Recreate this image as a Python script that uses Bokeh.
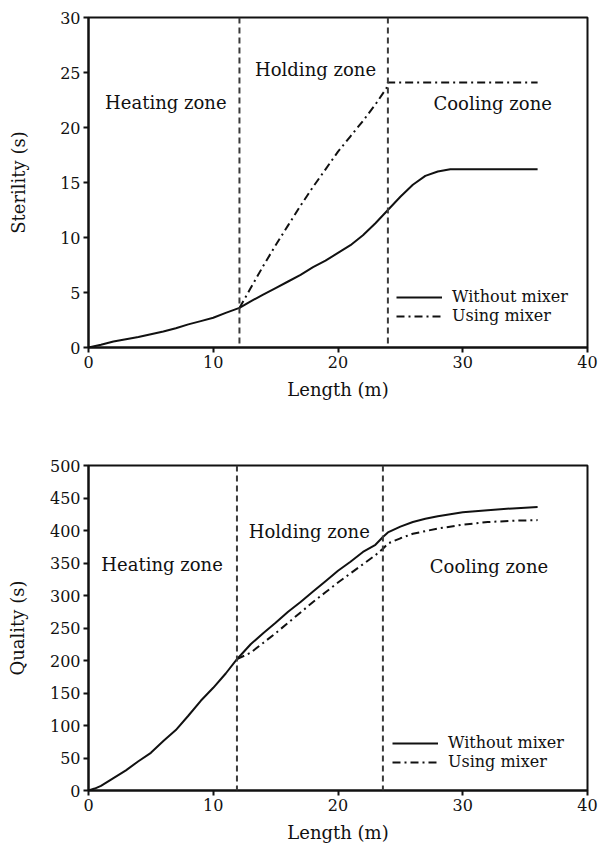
from bokeh.plotting import figure
from bokeh.layouts import column
from bokeh.models import Span, Legend, FixedTicker
from bokeh.core.properties import value
from bokeh.embed import file_html
from bokeh.resources import INLINE

# ---------------- data: top panel (sterility) ----------------
len_top_without = [0, 1, 2, 3, 4, 5, 6, 7, 8, 9, 10, 11, 12.1, 13, 14, 15, 16, 17, 18,
                   19, 20, 21, 22, 23, 24, 25, 26, 27, 28, 29, 36]
ster_without = [0, 0.25, 0.55, 0.75, 0.95, 1.2, 1.45, 1.75, 2.1, 2.4, 2.7, 3.15, 3.6,
                4.2, 4.8, 5.4, 6.0, 6.6, 7.3, 7.9, 8.6, 9.3, 10.2, 11.3, 12.5, 13.7,
                14.8, 15.6, 16.0, 16.2, 16.2]
len_top_mixer = [12.1, 13, 14, 15, 16, 17, 18, 19, 20, 21, 22, 23, 23.9, 24.0, 36]
ster_mixer = [3.6, 5.4, 7.4, 9.3, 11.1, 12.9, 14.6, 16.2, 17.8, 19.2, 20.6, 22.1,
              23.6, 24.1, 24.1]
zone_bounds_top = [12.1, 24.0]

# ---------------- data: bottom panel (quality) ----------------
len_bot_without = [0, 0.5, 1, 2, 3, 4, 5, 6, 7, 8, 9, 10, 11, 11.9, 13, 14, 15, 16, 17,
                   18, 19, 20, 21, 22, 23, 23.6, 24, 25, 26, 27, 28, 30, 32, 34, 36]
qual_without = [0, 3, 7, 19, 31, 45, 58, 76, 93, 115, 138, 158, 180, 202, 225, 242, 258,
                275, 290, 306, 322, 338, 352, 367, 378, 390, 397, 406, 413, 418, 422,
                428, 431, 434, 436]
len_bot_mixer = [11.9, 13, 14, 15, 16, 17, 18, 19, 20, 21, 22, 23, 23.6, 24, 25, 26, 27,
                 28, 30, 32, 34, 36]
qual_mixer = [202, 212, 227, 242, 258, 274, 290, 305, 320, 334, 348, 362, 372, 380, 388,
              395, 399, 403, 409, 413, 415, 416]
zone_bounds_bot = [11.9, 23.6]

zone_names = ["Heating zone", "Holding zone", "Cooling zone"]
zone_x_top = [6.2, 18.2, 32.4]
zone_y_top = [22.3, 25.3, 22.2]
zone_x_bot = [5.9, 17.7, 32.1]
zone_y_bot = [347, 398, 344]

x_ticks = [0, 10, 20, 30, 40]
y_ticks_top = [0, 5, 10, 15, 20, 25, 30]
y_ticks_bot = [0, 50, 100, 150, 200, 250, 300, 350, 400, 450, 500]

FONT = "DejaVu Serif"
INK = "#111111"


def style(p, xt, yt, ylabel, ylab_standoff):
    p.outline_line_color = INK
    p.outline_line_width = 2
    p.outline_line_alpha = 1
    p.xgrid.visible = False
    p.ygrid.visible = False
    p.background_fill_color = "white"
    p.border_fill_color = "white"
    p.xaxis.ticker = FixedTicker(ticks=xt)
    p.yaxis.ticker = FixedTicker(ticks=yt)
    for ax in (p.xaxis[0], p.yaxis[0]):
        ax.axis_line_color = INK
        ax.axis_line_width = 2
        ax.major_tick_line_color = INK
        ax.major_tick_line_width = 2
        ax.major_tick_out = 5
        ax.major_tick_in = 0
        ax.minor_tick_line_color = None
        ax.major_label_text_font = FONT
        ax.major_label_text_font_size = "16px"
        ax.major_label_text_color = INK
        ax.axis_label_text_font = FONT
        ax.axis_label_text_font_size = "18px"
        ax.axis_label_text_font_style = "normal"
        ax.axis_label_text_color = INK
        ax.major_label_standoff = 3
    p.xaxis.axis_label = "Length (m)"
    p.xaxis.axis_label_standoff = 8
    p.yaxis.axis_label = ylabel
    p.yaxis.axis_label_standoff = ylab_standoff


def panel(height, bt, bb, yr, xs1, ys1, xs2, ys2, bounds, zx, zy, yt, ylabel,
          ylab_standoff, leg_loc):
    p = figure(width=602, height=height, x_range=(0, 40), y_range=yr,
               output_backend="svg", toolbar_location=None,
               min_border_left=88, min_border_right=15,
               min_border_top=bt, min_border_bottom=bb)
    style(p, x_ticks, yt, ylabel, ylab_standoff)
    for b in bounds:
        p.add_layout(Span(location=b, dimension="height", line_color="#3a3a3a",
                          line_width=2, line_dash="6 4"))
    r1 = p.line(xs1, ys1, line_color=INK, line_width=2)
    r2 = p.line(xs2, ys2, line_color=INK, line_width=2, line_dash="8 4 2 4")
    p.text(x=zx, y=zy, text=zone_names, text_font=value(FONT),
           text_font_size="18px", text_align="center", text_baseline="middle",
           text_color=INK)
    leg = Legend(items=[("Without mixer", [r1]), ("Using mixer", [r2])],
                 location=leg_loc, border_line_alpha=0, background_fill_alpha=0,
                 glyph_width=46, glyph_height=16, label_height=16,
                 label_standoff=10, spacing=0, padding=0, margin=0,
                 label_text_font=FONT, label_text_font_size="16px",
                 label_text_color=INK)
    p.add_layout(leg)
    return p


p1 = panel(420, 17, 73, (0, 30), len_top_without, ster_without, len_top_mixer,
           ster_mixer, zone_bounds_top, zone_x_top, zone_y_top, y_ticks_top,
           "Sterility (s)", 28, (308, 22))
p2 = panel(425, 45, 55, (0, 500), len_bot_without, qual_without, len_bot_mixer,
           qual_mixer, zone_bounds_bot, zone_x_bot, zone_y_bot, y_ticks_bot,
           "Quality (s)", 19, (304, 19))

layout = column(p1, p2, spacing=0)
open("out.html", "w").write(file_html(layout, INLINE))
